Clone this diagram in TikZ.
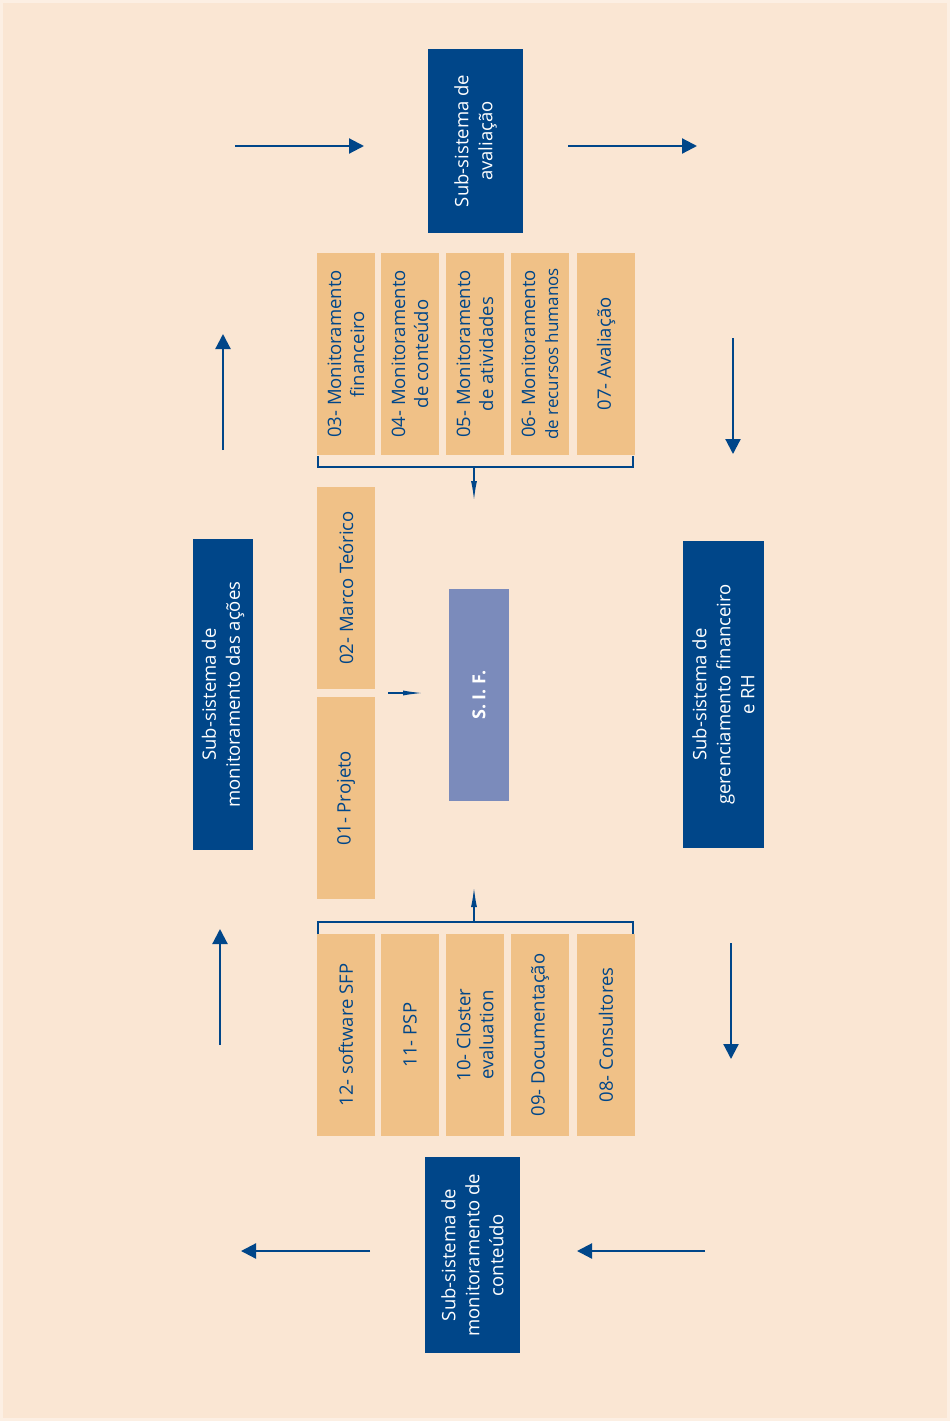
\documentclass[tikz,border=0pt]{standalone}
\usepackage{fontspec}
\setmainfont{Open Sans}
\usetikzlibrary{arrows.meta}
\definecolor{bgout}{HTML}{FCEFE3}
\definecolor{bgin}{HTML}{FAE6D3}
\definecolor{dblue}{HTML}{004689}
\definecolor{orng}{HTML}{F0C187}
\definecolor{sifc}{HTML}{7B8BBB}
\tikzset{
  obox/.style={fill=orng, draw=none, rotate=90, align=center, text=dblue,
    font=\fontsize{18.5}{23}\selectfont, inner sep=0pt, minimum width=202pt, minimum height=58pt},
  dbox/.style={fill=dblue, draw=none, rotate=90, align=center, text=white,
    font=\fontsize{18.5}{24}\selectfont, inner sep=0pt},
  bigarrow/.style={draw=dblue, line width=2.2pt, -{Triangle[length=15pt,width=15pt]}},
  slimarrow/.style={draw=dblue, line width=1.6pt, -{Latex[length=20pt,width=6pt]}},
  brk/.style={draw=dblue, line width=1.6pt},
}
\begin{document}
\begin{tikzpicture}[x=1pt,y=-1pt]
\fill[bgout] (0,0) rectangle (950,1421);
\fill[bgin] (3,3) rectangle (947,1418);
\useasboundingbox (0,0) rectangle (950,1421);

% dark subsystem boxes
\node[dbox, minimum width=184pt, minimum height=95pt] (aval) at (475.5,141) {Sub-sistema de\\avaliação};
\node[dbox, minimum width=311pt, minimum height=60pt] (acoes) at (223,694.5) {Sub-sistema de\\monitoramento das ações};
\node[dbox, minimum width=307pt, minimum height=81pt] (ger) at (723.5,694.5) {Sub-sistema de\\gerenciamento financeiro\\e RH};
\node[dbox, minimum width=196pt, minimum height=95pt] (cont) at (472.5,1255) {Sub-sistema de\\monitoramento de\\conteúdo};

% S.I.F.
\node[dbox, fill=sifc, font=\bfseries\fontsize{18}{22}\selectfont, minimum width=212pt, minimum height=60pt] (sif) at (479,695) {S. I. F.};

% top row
\node[obox] (b03) at (346,354) {03- Monitoramento\\financeiro};
\node[obox] (b04) at (410,354) {04- Monitoramento\\de conteúdo};
\node[obox] (b05) at (475,354) {05- Monitoramento\\de atividades};
\node[obox] (b06) at (540,354) {06- Monitoramento\\{\fontsize{17}{21}\selectfont de recursos humanos}};
\node[obox] (b07) at (606,354) {07- Avaliação};

% middle
\node[obox] (b02) at (346,588) {02- Marco Teórico};
\node[obox] (b01) at (346,798) {01- Projeto};

% bottom row
\node[obox] (b12) at (346,1035) {12- software SFP};
\node[obox] (b11) at (410,1035) {11- PSP};
\node[obox] (b10) at (475,1035) {10- Closter\\evaluation};
\node[obox] (b09) at (540,1035) {09- Documentação};
\node[obox] (b08) at (606,1035) {08- Consultores};

% brackets
\coordinate (tb1) at (318,456);
\coordinate (tb2) at (633,456);
\coordinate (tbm) at (474,467);
\coordinate (tbe) at (474,501);
\draw[brk] (tb1) |- (tbm) -| (tb2);
\draw[slimarrow] (tbm) -- (tbe);

\coordinate (bb1) at (318,934);
\coordinate (bb2) at (633,934);
\coordinate (bbm) at (474,922);
\coordinate (bbe) at (474,887);
\draw[brk] (bb1) |- (bbm) -| (bb2);
\draw[slimarrow] (bbm) -- (bbe);

% middle arrow towards SIF
\coordinate (ma) at (388,693);
\coordinate (mb) at (425,693);
\draw[slimarrow, line width=1.8pt, -{Latex[length=22pt,width=5pt]}] (ma) -- (mb);

% big arrows
\coordinate (a1s) at (235,146); \coordinate (a1e) at (364,146);
\coordinate (a2s) at (568,146); \coordinate (a2e) at (697,146);
\coordinate (a3s) at (733,338); \coordinate (a3e) at (733,454);
\coordinate (a4s) at (731,943); \coordinate (a4e) at (731,1059);
\coordinate (a5s) at (705,1251); \coordinate (a5e) at (577,1251);
\coordinate (a6s) at (370,1251); \coordinate (a6e) at (241,1251);
\coordinate (a7s) at (220,1045); \coordinate (a7e) at (220,929);
\coordinate (a8s) at (223,450); \coordinate (a8e) at (223,334);
\foreach \i in {1,...,8} {\draw[bigarrow] (a\i s) -- (a\i e);}
\end{tikzpicture}
\end{document}
